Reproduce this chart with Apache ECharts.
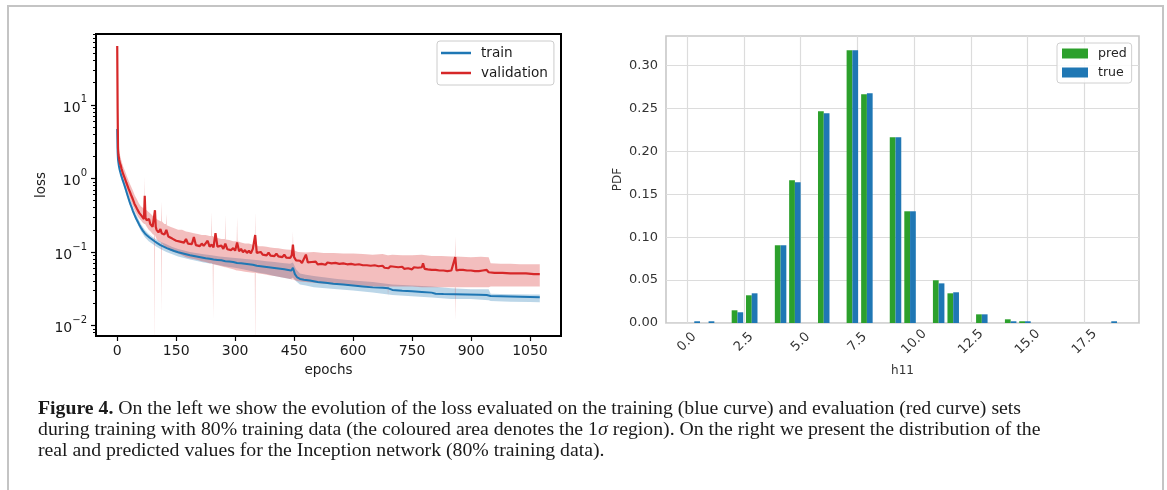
<!DOCTYPE html>
<html><head><meta charset="utf-8">
<script src="https://cdn.jsdelivr.net/npm/echarts/dist/echarts.min.js"></script>
<style>
html,body{margin:0;padding:0;background:#fff;width:1167px;height:490px;overflow:hidden;}
.fr{position:absolute;background:#c4c4c4;}
#chart{position:absolute;left:0;top:0;width:1167px;height:490px;}
#cap{position:absolute;left:38px;top:397px;font-family:'Liberation Serif','Times New Roman',serif;font-size:19.75px;line-height:21px;color:#1a1a1a;white-space:nowrap;}
</style></head>
<body>
<div class="fr" style="left:7px;top:5px;width:2px;height:485px"></div>
<div class="fr" style="left:7px;top:5px;width:1157px;height:2px"></div>
<div class="fr" style="left:1162px;top:5px;width:2px;height:485px"></div>
<div id="chart"></div>
<div id="cap"><b>Figure 4.</b> On the left we show the evolution of the loss evaluated on the training (blue curve) and evaluation (red curve) sets<br>during training with 80% training data (the coloured area denotes the 1<i>σ</i> region). On the right we present the distribution of the<br>real and predicted values for the Inception network (80% training data).</div>
<script>
// ---------- left panel data ----------
const epochTicks = [0,150,300,450,600,750,900,1050];
const lossMajor = [0.01,0.1,1,10];
const lossMinor = [0.008,0.009,0.02,0.03,0.04,0.05,0.06,0.07,0.08,0.09,0.2,0.3,0.4,0.5,0.6,0.7,0.8,0.9,2,3,4,5,6,7,8,9,20,30,40,50,60,70,80,90];

const trainLoss = [[0,4.7],[1,2.3],[2,1.8],[4,1.5],[6,1.32],[8,1.2],[10,1.1],[13,0.98],[16,0.88],[19,0.79],[22,0.7],[25,0.62],[28,0.55],[31,0.49],[34,0.44],[37,0.4],[40,0.36],[44,0.32],[48,0.285],[52,0.26],[56,0.235],[60,0.215],[65,0.195],[70,0.18],[76,0.167],[82,0.157],[88,0.149],[95,0.14],[102,0.132],[110,0.124],[118,0.118],[126,0.113],[135,0.108],[145,0.103],[155,0.099],[165,0.096],[175,0.093],[185,0.09],[195,0.088],[205,0.086],[215,0.084],[225,0.082],[235,0.081],[245,0.079],[255,0.078],[265,0.077],[275,0.075],[285,0.074],[295,0.073],[305,0.071],[315,0.07],[325,0.069],[335,0.068],[345,0.067],[355,0.065],[365,0.064],[375,0.063],[385,0.062],[395,0.061],[405,0.06],[415,0.059],[425,0.058],[435,0.057],[443,0.056],[447,0.061],[452,0.05],[458,0.045],[465,0.043],[475,0.042],[490,0.041],[510,0.039],[530,0.038],[550,0.037],[575,0.036],[600,0.035],[625,0.034],[650,0.033],[675,0.0325],[690,0.032],[700,0.0305],[725,0.0298],[750,0.0292],[775,0.0286],[800,0.028],[810,0.027],[830,0.0268],[860,0.0266],[890,0.0264],[920,0.0262],[940,0.026],[950,0.0252],[975,0.025],[1000,0.0248],[1025,0.0246],[1050,0.0244],[1075,0.0242]];

const valLoss = [[0,63],[1,9],[2,2.6],[3,2.1],[5,1.8],[7,1.6],[9,1.5],[11,1.35],[13,1.3],[15,1.15],[17,1.1],[20,0.98],[23,0.88],[26,0.8],[29,0.72],[32,0.66],[35,0.6],[38,0.55],[41,0.5],[44,0.45],[47,0.42],[50,0.39],[53,0.37],[56,0.34],[59,0.33],[62,0.31],[65,0.3],[68,0.28],[70,0.58],[72,0.29],[75,0.27],[78,0.26],[81,0.28],[84,0.24],[87,0.23],[90,0.22],[93,0.23],[96,0.37],[98,0.22],
[100,0.2],[105,0.185],[110,0.205],[113,0.18],[115,0.19],[120,0.172],[125,0.2],[130,0.162],[135,0.17],[140,0.152],[145,0.158],[150,0.142],[155,0.15],[160,0.138],[165,0.146],[170,0.134],[175,0.15],[180,0.13],[185,0.138],[190,0.128],[195,0.16],[200,0.124],[205,0.132],[210,0.12],[215,0.13],[220,0.121],[225,0.127],[230,0.142],[235,0.118],[240,0.126],[245,0.116],[250,0.18],[255,0.118],[260,0.112],[265,0.122],[270,0.11],[275,0.13],[280,0.109],[285,0.116],[290,0.106],[295,0.113],[300,0.104],[305,0.135],[310,0.102],[315,0.11],[320,0.099],[325,0.106],[330,0.097],[335,0.104],[340,0.096],[345,0.11],[351,0.17],[355,0.097],[360,0.093],[365,0.1],[370,0.092],[375,0.097],[380,0.09],[385,0.098],[390,0.089],[395,0.094],[400,0.088],[405,0.095],[410,0.087],[415,0.091],[420,0.085],[425,0.092],[430,0.084],[435,0.088],[440,0.083],[444,0.09],[447,0.126],[450,0.085],[455,0.077],[460,0.073],[465,0.076],[470,0.071],[475,0.075],[480,0.092],[485,0.072],[490,0.069],[495,0.073],[500,0.07],[505,0.074],[510,0.068],[515,0.072],[520,0.069],[525,0.071],[530,0.067],[535,0.072],[540,0.068],[545,0.07],[550,0.066],[555,0.071],[560,0.067],[565,0.069],[570,0.065],[575,0.07],[580,0.066],[585,0.068],[590,0.064],[595,0.069],[600,0.065],[605,0.067],[610,0.063],[615,0.068],[620,0.064],[625,0.066],[630,0.062],[635,0.066],[640,0.063],[645,0.065],[650,0.062],[655,0.066],[660,0.062],[665,0.064],[670,0.061],[675,0.065],[680,0.061],[685,0.063],[690,0.06],[695,0.064],[700,0.061],[705,0.063],[710,0.06],[715,0.062],[720,0.059],[725,0.063],[730,0.059],[735,0.062],[740,0.06],[745,0.061],[750,0.058],[755,0.062],[760,0.059],[765,0.061],[770,0.058],[775,0.062],[778,0.07],[782,0.059],[785,0.06],[790,0.058],[795,0.06],[800,0.057],[805,0.06],[810,0.057],[815,0.059],[820,0.056],[825,0.059],[830,0.056],[835,0.058],[840,0.055],[845,0.058],[850,0.056],[855,0.057],[860,0.085],[863,0.056],[865,0.055],[870,0.057],[875,0.054],[880,0.057],[885,0.054],[890,0.056],[895,0.054],[900,0.056],[905,0.053],[910,0.055],[915,0.053],[920,0.055],[925,0.052],[930,0.056],[935,0.053],[940,0.057],[945,0.053],[950,0.052],
[960,0.052],[980,0.052],[1000,0.051],[1020,0.051],[1040,0.051],[1060,0.05],[1075,0.05]];

// [epoch, lower, upper] of the 1-sigma bands
const trainBand = [[2,1.6,2.0],[5,1.35,1.65],[10,1.0,1.2],[15,0.82,0.98],[20,0.68,0.82],[25,0.56,0.68],[30,0.46,0.56],[35,0.39,0.48],[40,0.33,0.4],[45,0.29,0.35],[50,0.25,0.31],[60,0.195,0.24],[70,0.16,0.2],[80,0.14,0.175],[90,0.128,0.16],[100,0.118,0.148],[110,0.11,0.138],[125,0.1,0.127],[140,0.093,0.117],[155,0.087,0.11],[170,0.083,0.105],[185,0.079,0.1],[200,0.076,0.097],[220,0.072,0.093],[240,0.069,0.09],[260,0.066,0.087],[280,0.063,0.085],[300,0.061,0.083],[320,0.058,0.081],[340,0.055,0.079],[360,0.052,0.077],[380,0.05,0.075],[400,0.047,0.073],[420,0.045,0.071],[440,0.043,0.069],[447,0.045,0.072],[455,0.04,0.058],[465,0.036,0.051],[480,0.035,0.049],[500,0.033,0.047],[530,0.032,0.045],[560,0.031,0.043],[600,0.03,0.041],[650,0.028,0.039],[700,0.026,0.036],[750,0.025,0.035],[800,0.024,0.034],[850,0.023,0.032],[900,0.023,0.031],[945,0.022,0.031],[950,0.0215,0.027],[1000,0.021,0.0266],[1050,0.0208,0.0264],[1075,0.0207,0.0264]];

const valBand = [[2,2.0,3.2],[5,1.5,2.3],[10,1.2,1.8],[15,0.95,1.45],[20,0.8,1.25],[25,0.68,1.05],[30,0.57,0.9],[35,0.48,0.78],[40,0.42,0.68],[45,0.36,0.58],[50,0.32,0.52],[55,0.29,0.46],[60,0.27,0.42],[65,0.25,0.4],[69,0.24,0.38],[70,0.24,1.05],[71,0.24,0.38],[75,0.22,0.37],[80,0.2,0.35],[85,0.19,0.33],[90,0.175,0.31],[94,0.17,0.3],[95,0.005,0.3],[96,0.17,0.3],[100,0.15,0.28],[105,0.14,0.27],[112,0.135,0.26],[113,0.0144,0.48],[114,0.13,0.26],[120,0.12,0.24],[124,0.115,0.24],[125,0.115,0.33],[126,0.115,0.23],[135,0.105,0.22],[145,0.1,0.21],[155,0.095,0.2],[165,0.09,0.2],[175,0.085,0.19],[185,0.082,0.185],[195,0.08,0.18],[205,0.078,0.175],[215,0.075,0.17],[225,0.073,0.17],[235,0.07,0.165],[239,0.07,0.165],[240,0.07,0.35],[241,0.07,0.165],[243,0.068,0.165],[244,0.012,0.165],[245,0.068,0.16],[255,0.066,0.155],[265,0.064,0.15],[274,0.062,0.15],[275,0.062,0.32],[276,0.062,0.148],[285,0.06,0.145],[295,0.058,0.14],[304,0.056,0.14],[305,0.056,0.3],[306,0.056,0.14],[315,0.055,0.135],[325,0.054,0.13],[335,0.053,0.13],[345,0.052,0.125],[350,0.052,0.125],[351,0.005,0.35],[352,0.052,0.125],[360,0.051,0.12],[370,0.05,0.12],[380,0.049,0.118],[390,0.048,0.115],[400,0.047,0.113],[410,0.046,0.112],[420,0.045,0.11],[430,0.044,0.108],[440,0.043,0.107],[446,0.042,0.106],[447,0.045,0.19],[448,0.042,0.106],[460,0.04,0.1],[480,0.039,0.098],[500,0.038,0.1],[525,0.037,0.097],[550,0.036,0.097],[575,0.036,0.095],[600,0.035,0.095],[625,0.035,0.094],[650,0.034,0.092],[675,0.034,0.094],[688,0.034,0.09],[689,0.025,0.09],[690,0.034,0.09],[700,0.034,0.092],[725,0.034,0.09],[750,0.034,0.09],[775,0.033,0.092],[800,0.033,0.088],[825,0.033,0.088],[850,0.033,0.087],[859,0.033,0.087],[860,0.0115,0.164],[861,0.033,0.087],[875,0.033,0.086],[900,0.033,0.085],[925,0.033,0.086],[945,0.033,0.085],[950,0.034,0.07],[975,0.034,0.069],[1000,0.034,0.069],[1025,0.034,0.068],[1050,0.034,0.068],[1075,0.034,0.068]];

// ---------- right panel data ----------
const h11Ticks = [0,2.5,5,7.5,10,12.5,15,17.5];
const pdfTicks = [0,0.05,0.10,0.15,0.20,0.25,0.30];
const h11BinCenters = [0.32,0.95,2.22,2.85,4.12,4.75,6.02,7.28,7.92,9.18,9.82,11.08,11.72,12.98,14.25,14.88,18.68];
const predPDF = [0,0,0.0148,0.0323,0.0906,0.1663,0.2467,0.3178,0.2665,0.2164,0.1302,0.0498,0.0346,0.0101,0.0043,0.002,0];
const truePDF = [0.002,0.002,0.0125,0.0346,0.0906,0.164,0.2444,0.3178,0.2677,0.2164,0.1302,0.0462,0.0358,0.0101,0.002,0.002,0.002];

// ---------- chart ----------
const FONT = 'DejaVu Sans';
const chart = echarts.init(document.getElementById('chart'), null, {renderer:'canvas'});

function bandSeries(name, band, color){
  return {
    name: name, type:'custom', xAxisIndex:0, yAxisIndex:0, clip:true, silent:true, z:1,
    data: band, encode:{x:0, y:[1,2]},
    renderItem: function(params, api){
      if (params.dataIndex !== 0) return;
      const up = [], lo = [];
      for (const d of band){ up.push(api.coord([d[0], d[2]])); lo.push(api.coord([d[0], d[1]])); }
      return {type:'polygon', shape:{points: up.concat(lo.reverse())}, style:{fill: color}};
    }
  };
}

function logLabel(v){
  const e = Math.round(Math.log10(v));
  return '{b|10}{s|' + String(e).replace('-', '\u2212') + '}';
}

const option = {
  animation:false,
  textStyle:{fontFamily:FONT},
  grid:[
    {left:96, top:34, width:465, height:302, show:true, borderColor:'#000', borderWidth:2, backgroundColor:'transparent'},
    {left:666, top:36, width:473, height:287, show:true, borderColor:'#c8c8c8', borderWidth:1.6, backgroundColor:'transparent'}
  ],
  xAxis:[
    {type:'value', gridIndex:0, min:-54, max:1129,
     axisLine:{show:true, onZero:false, lineStyle:{color:'#000', width:2}},
     axisTick:{show:true, customValues:epochTicks, length:5, lineStyle:{color:'#000', width:1.2}},
     axisLabel:{customValues:epochTicks, formatter:v=>String(v), margin:8, fontSize:14, color:'#1a1a1a', fontFamily:FONT},
     splitLine:{show:false},
     name:'epochs', nameLocation:'middle', nameGap:27, nameTextStyle:{fontSize:13.5, color:'#1a1a1a', fontFamily:FONT}},
    {type:'value', gridIndex:1, min:-0.925, max:19.9,
     axisLine:{show:false, onZero:false}, axisTick:{show:false, customValues:h11Ticks},
     axisLabel:{customValues:h11Ticks, formatter:v=>v.toFixed(1), rotate:45, align:'center', verticalAlign:'middle', margin:19, fontSize:13, color:'#333', fontFamily:FONT},
     splitLine:{show:true, lineStyle:{color:'#dcdcdc', width:1.2}},
     name:'h11', nameLocation:'middle', nameGap:42, nameTextStyle:{fontSize:12, color:'#333', fontFamily:FONT}}
  ],
  yAxis:[
    {type:'log', logBase:10, gridIndex:0, min:0.0072, max:92,
     axisLine:{show:true, onZero:false, lineStyle:{color:'#000', width:2}},
     axisTick:{show:true, customValues:lossMajor, length:5, lineStyle:{color:'#000', width:1.2}},
     axisLabel:{customValues:lossMajor, margin:9, formatter:logLabel, color:'#1a1a1a',
       rich:{b:{fontSize:14, fontFamily:FONT, color:'#1a1a1a', lineHeight:20, verticalAlign:'bottom'},
             s:{fontSize:10, fontFamily:FONT, color:'#1a1a1a', lineHeight:20, verticalAlign:'top'}}},
     splitLine:{show:false},
     name:'loss', nameLocation:'middle', nameGap:48, nameRotate:90, nameTextStyle:{fontSize:13.5, color:'#1a1a1a', fontFamily:FONT}},
    {type:'log', logBase:10, gridIndex:0, min:0.0072, max:92, position:'left', offset:0,
     axisLine:{show:false, onZero:false}, axisLabel:{show:false}, splitLine:{show:false},
     axisTick:{show:true, customValues:lossMinor, length:3, lineStyle:{color:'#000', width:1}}},
    {type:'value', gridIndex:1, min:0, max:0.3345,
     axisLine:{show:false, onZero:false}, axisTick:{show:false, customValues:pdfTicks},
     axisLabel:{customValues:pdfTicks, formatter:v=>v.toFixed(2), margin:8, fontSize:13, color:'#333', fontFamily:FONT},
     splitLine:{show:true, lineStyle:{color:'#dcdcdc', width:1.2}},
     name:'PDF', nameLocation:'middle', nameGap:42, nameRotate:90, nameTextStyle:{fontSize:12, color:'#333', fontFamily:FONT}}
  ],
  legend:[
    {data:[{name:'train', icon:'rect'},{name:'validation', icon:'rect'}], orient:'vertical', left:437, top:41,
     itemWidth:30, itemHeight:2.5, itemGap:5, padding:[4.5,6,4.5,4], borderColor:'#cccccc', borderWidth:1, borderRadius:3,
     backgroundColor:'rgba(255,255,255,0.85)', selectedMode:false,
     textStyle:{fontSize:13.6, color:'#1a1a1a', fontFamily:FONT, lineHeight:15, padding:[0,0,0,5]}},
    {data:[{name:'pred', icon:'rect'},{name:'true', icon:'rect'}], orient:'vertical', left:1057, top:43,
     itemWidth:26, itemHeight:10, itemGap:4, padding:[3,5,3,5], borderColor:'#d0d0d0', borderWidth:1, borderRadius:3,
     backgroundColor:'rgba(255,255,255,0.85)', selectedMode:false,
     textStyle:{fontSize:12.6, color:'#262626', fontFamily:FONT, lineHeight:15, padding:[0,0,0,5]}}
  ],
  series:[
    bandSeries('trainBand', trainBand, 'rgba(31,119,180,0.3)'),
    bandSeries('valBand', valBand, 'rgba(214,39,40,0.3)'),
    {name:'train', type:'line', xAxisIndex:0, yAxisIndex:0, data:trainLoss, showSymbol:false, symbol:'none', z:3,
     lineStyle:{color:'#1f77b4', width:2}, itemStyle:{color:'#1f77b4'}},
    {name:'validation', type:'line', xAxisIndex:0, yAxisIndex:0, data:valLoss, showSymbol:false, symbol:'none', z:4,
     lineStyle:{color:'#d62728', width:2.2}, itemStyle:{color:'#d62728'}},
    {name:'pred', type:'bar', xAxisIndex:1, yAxisIndex:2, barWidth:5.75, barGap:'0%', z:3,
     data:h11BinCenters.map((x,i)=>[x, predPDF[i]]), itemStyle:{color:'#2ca02c'}},
    {name:'true', type:'bar', xAxisIndex:1, yAxisIndex:2, barWidth:5.75, barGap:'0%', z:3,
     data:h11BinCenters.map((x,i)=>[x, truePDF[i]]), itemStyle:{color:'#1f77b4'}}
  ]
};
chart.setOption(option);
</script>
</body></html>
